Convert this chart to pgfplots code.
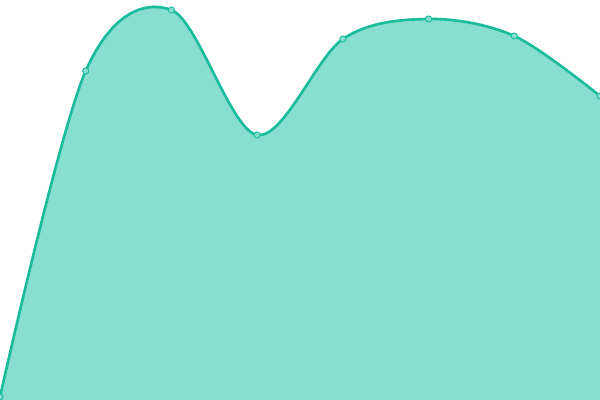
\documentclass[border=0pt]{standalone}
\usepackage{pgfplots}
\pgfplotsset{compat=1.18}
\definecolor{linec}{HTML}{1ABC9C}
\definecolor{fillc}{HTML}{88DFCF}
\begin{document}
\begin{tikzpicture}
\begin{axis}[
  scale only axis, width=450pt, height=300pt,
  xmin=0, xmax=600, ymin=0, ymax=400,
  hide axis, clip=true, clip marker paths=true]
\addplot[fill=fillc, draw=none, smooth, tension=0.55] coordinates {
  (0,3) (85.7,329) (171.4,390) (257.1,265) (342.9,361) (428.6,381) (514.3,364) (600,304)
} \closedcycle;
\addplot[linec, line width=2pt, smooth, tension=0.55,
  mark=*, mark size=2.3pt, mark options={fill=fillc, draw=linec, line width=0.7pt}] coordinates {
  (0,3) (85.7,329) (171.4,390) (257.1,265) (342.9,361) (428.6,381) (514.3,364) (600,304)
};
\end{axis}
\pgfresetboundingbox
\useasboundingbox (current axis.south west) rectangle (current axis.north east);
\end{tikzpicture}
\end{document}
